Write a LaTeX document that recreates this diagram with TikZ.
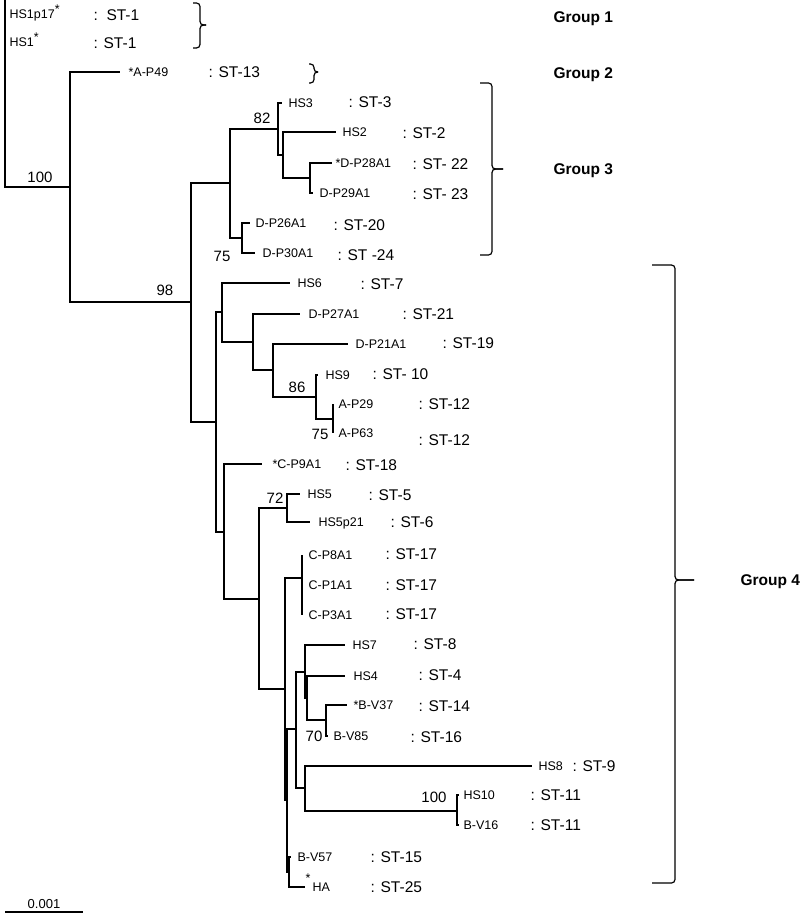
\documentclass[tikz,border=0pt]{standalone}
\usepackage{fontspec}
\setmainfont{Liberation Sans}

\begin{document}
\begin{tikzpicture}[x=1pt,y=-1pt,line width=1.2pt,
  taxon/.style={font=\fontsize{12.5}{14}\selectfont,anchor=base west,inner sep=0pt,yshift=-4.5pt},
  stype/.style={font=\fontsize{15.5}{17}\selectfont,anchor=base west,inner sep=0pt,yshift=-5.5pt},
  boot/.style={font=\fontsize{15}{17}\selectfont,anchor=base,inner sep=0pt,yshift=-5.4pt},
  grp/.style={font=\bfseries\fontsize{15.5}{17}\selectfont,anchor=base west,inner sep=0pt,yshift=-5.5pt},
  bracket/.style={rounded corners=3.5pt}]
  \useasboundingbox (0,0) rectangle (800,915);

  % internal nodes of the tree
  \coordinate (top) at (5,0);
  \coordinate (n0) at (5,187);
  \coordinate (n1) at (70,187);
  \coordinate (n2) at (191,302);
  \coordinate (n3) at (230,183);
  \coordinate (n5) at (278,129);
  \coordinate (n7) at (283,155);
  \coordinate (n8) at (310,178);
  \coordinate (n6) at (242,238);
  \coordinate (n4) at (216,422);
  \coordinate (n9) at (222,312);
  \coordinate (n11) at (253,342);
  \coordinate (n12) at (273,370);
  \coordinate (n13) at (316,397);
  \coordinate (n14) at (333,419);
  \coordinate (n10) at (224,532);
  \coordinate (n15) at (259,599);
  \coordinate (n16) at (287,508);
  \coordinate (n17) at (285,689);
  \coordinate (n18) at (302,578);
  \coordinate (n19) at (287,800);
  \coordinate (n20) at (296,729);
  \coordinate (n22) at (305,672);
  \coordinate (n24) at (307,698);
  \coordinate (n25) at (326,720);
  \coordinate (n23) at (305,788);
  \coordinate (n26) at (457,811);
  \coordinate (n21) at (289,872);

  % branch tips
  \coordinate (hs1p17) at (5,14);
  \coordinate (hs1) at (5,42);
  \coordinate (ap49) at (120,72);
  \coordinate (hs3) at (282,103);
  \coordinate (hs2) at (336,132);
  \coordinate (dp28) at (332,163);
  \coordinate (dp29) at (313,193);
  \coordinate (dp26) at (250,223);
  \coordinate (dp30) at (255,253);
  \coordinate (hs6) at (290,283);
  \coordinate (dp27) at (300,314);
  \coordinate (dp21) at (348,344);
  \coordinate (hs9) at (318,375);
  \coordinate (ap29) at (333,404);
  \coordinate (ap63) at (333,433);
  \coordinate (cp9) at (262,464);
  \coordinate (hs5) at (300,494);
  \coordinate (hs5p21) at (310,522);
  \coordinate (cp8) at (302,555);
  \coordinate (cp1) at (302,585);
  \coordinate (cp3) at (302,615);
  \coordinate (hs7) at (345,645);
  \coordinate (hs4) at (345,676);
  \coordinate (bv37) at (347,705);
  \coordinate (bv85) at (328,736);
  \coordinate (hs8) at (532,766);
  \coordinate (hs10) at (459,795);
  \coordinate (bv16) at (459,825);
  \coordinate (bv57) at (291,857);
  \coordinate (ha) at (305,887);

  % branches
  \draw (top) -- (n0) -- (n1);
  \draw (n1) |- (ap49)  (n1) |- (n2);
  \draw (n2) |- (n3)  (n2) |- (n4);
  \draw (n3) |- (n5)  (n3) |- (n6);
  \draw (n5) |- (hs3)  (n5) |- (n7);
  \draw (n7) |- (hs2)  (n7) |- (n8);
  \draw (n8) |- (dp28)  (n8) |- (dp29);
  \draw (n6) |- (dp26)  (n6) |- (dp30);
  \draw (n4) |- (n9)  (n4) |- (n10);
  \draw (n9) |- (hs6)  (n9) |- (n11);
  \draw (n11) |- (dp27)  (n11) |- (n12);
  \draw (n12) |- (dp21)  (n12) |- (n13);
  \draw (n13) |- (hs9)  (n13) |- (n14);
  \draw (n14) |- (ap29)  (n14) |- (ap63);
  \draw (n10) |- (cp9)  (n10) |- (n15);
  \draw (n15) |- (n16)  (n15) |- (n17);
  \draw (n16) |- (hs5)  (n16) |- (hs5p21);
  \draw (n17) |- (n18)  (n17) |- (n19);
  \draw (n18) |- (cp8)  (n18) |- (cp3);
  \draw (n19) |- (n20)  (n19) |- (n21);
  \draw (n20) |- (n22)  (n20) |- (n23);
  \draw (n22) |- (hs7)  (n22) |- (n24);
  \draw (n24) |- (hs4)  (n24) |- (n25);
  \draw (n25) |- (bv37)  (n25) |- (bv85);
  \draw (n23) |- (hs8)  (n23) |- (n26);
  \draw (n26) |- (hs10)  (n26) |- (bv16);
  \draw (n21) |- (bv57)  (n21) |- (ha);

  % bootstrap values
  \node[boot] (b1) at (40,177) {100};
  \node[boot] (b2) at (165,290) {98};
  \node[boot] (b3) at (262,118) {82};
  \node[boot] (b4) at (222,256) {75};
  \node[boot] (b5) at (297,387) {86};
  \node[boot] (b6) at (320,434) {75};
  \node[boot] (b7) at (275,498) {72};
  \node[boot] (b8) at (314,736) {70};
  \node[boot] (b9) at (434,797) {100};

  % taxa
  \node[taxon] (l1) at (9,14) {HS1p17\raisebox{5pt}{*}};
  \node[taxon] (l2) at (9,42) {HS1\raisebox{5pt}{*}};
  \node[taxon] (l3) at (128,72) {*A-P49};
  \node[taxon] (l4) at (288,103) {HS3};
  \node[taxon] (l5) at (342,132) {HS2};
  \node[taxon] (l6) at (335,163) {*D-P28A1};
  \node[taxon] (l7) at (319,193) {D-P29A1};
  \node[taxon] (l8) at (255,223) {D-P26A1};
  \node[taxon] (l9) at (262,253) {D-P30A1};
  \node[taxon] (l10) at (297,283) {HS6};
  \node[taxon] (l11) at (308,314) {D-P27A1};
  \node[taxon] (l12) at (355,344) {D-P21A1};
  \node[taxon] (l13) at (325,375) {HS9};
  \node[taxon] (l14) at (338,404) {A-P29};
  \node[taxon] (l15) at (338,433) {A-P63};
  \node[taxon] (l16) at (272,464) {*C-P9A1};
  \node[taxon] (l17) at (307,494) {HS5};
  \node[taxon] (l18) at (318,522) {HS5p21};
  \node[taxon] (l19) at (308,555) {C-P8A1};
  \node[taxon] (l20) at (308,585) {C-P1A1};
  \node[taxon] (l21) at (308,615) {C-P3A1};
  \node[taxon] (l22) at (352,645) {HS7};
  \node[taxon] (l23) at (353,676) {HS4};
  \node[taxon] (l24) at (353,705) {*B-V37};
  \node[taxon] (l25) at (333,736) {B-V85};
  \node[taxon] (l26) at (538,766) {HS8};
  \node[taxon] (l27) at (463,795) {HS10};
  \node[taxon] (l28) at (463,825) {B-V16};
  \node[taxon] (l29) at (297,857) {B-V57};
  \node[taxon] (l30) at (305,887) {\raisebox{9pt}{*}\,HA};

  % sequence types
  \node[stype] (s1) at (93,15) {:\ \ ST-1};
  \node[stype] (s2) at (93,43) {: ST-1};
  \node[stype] (s3) at (208,72) {: ST-13};
  \node[stype] (s4) at (348,102) {: ST-3};
  \node[stype] (s5) at (402,133) {: ST-2};
  \node[stype] (s6) at (412,164) {: ST- 22};
  \node[stype] (s7) at (412,194) {: ST- 23};
  \node[stype] (s8) at (333,225) {: ST-20};
  \node[stype] (s9) at (337,255) {: ST -24};
  \node[stype] (s10) at (360,284) {: ST-7};
  \node[stype] (s11) at (402,314) {: ST-21};
  \node[stype] (s12) at (442,343) {: ST-19};
  \node[stype] (s13) at (372,374) {: ST- 10};
  \node[stype] (s14) at (418,404) {: ST-12};
  \node[stype] (s15) at (418,440) {: ST-12};
  \node[stype] (s16) at (345,465) {: ST-18};
  \node[stype] (s17) at (368,495) {: ST-5};
  \node[stype] (s18) at (390,522) {: ST-6};
  \node[stype] (s19) at (385,554) {: ST-17};
  \node[stype] (s20) at (385,585) {: ST-17};
  \node[stype] (s21) at (385,614) {: ST-17};
  \node[stype] (s22) at (413,644) {: ST-8};
  \node[stype] (s23) at (418,675) {: ST-4};
  \node[stype] (s24) at (418,706) {: ST-14};
  \node[stype] (s25) at (410,737) {: ST-16};
  \node[stype] (s26) at (572,766) {: ST-9};
  \node[stype] (s27) at (530,795) {: ST-11};
  \node[stype] (s28) at (530,825) {: ST-11};
  \node[stype] (s29) at (370,857) {: ST-15};
  \node[stype] (s30) at (370,887) {: ST-25};

  % groups
  \draw[bracket] (193,3) -- (200,3) -- (200,25) -- (206,25);
  \draw[bracket] (193,48) -- (200,48) -- (200,25) -- (206,25);
  \draw[bracket] (309,64) -- (314,64) -- (314,72) -- (318,72);
  \draw[bracket] (309,83) -- (314,83) -- (314,72) -- (318,72);
  \draw[bracket] (480,83) -- (492,83) -- (492,169) -- (503,169);
  \draw[bracket] (480,255) -- (492,255) -- (492,169) -- (503,169);
  \draw[bracket] (652,265) -- (675,265) -- (675,580) -- (694,580);
  \draw[bracket] (652,883) -- (675,883) -- (675,580) -- (694,580);
  \node[grp] (g1) at (553,17) {Group 1};
  \node[grp] (g2) at (553,73) {Group 2};
  \node[grp] (g3) at (553,169) {Group 3};
  \node[grp] (g4) at (740,580) {Group 4};

  % scale bar
  \coordinate (sb1) at (5,912);
  \coordinate (sb2) at (83,912);
  \draw (sb1) -- (sb2);
  \node[font=\fontsize{13}{15}\selectfont,anchor=base,inner sep=0pt] (sblabel) at (44,908) {0.001};
\end{tikzpicture}
\end{document}
